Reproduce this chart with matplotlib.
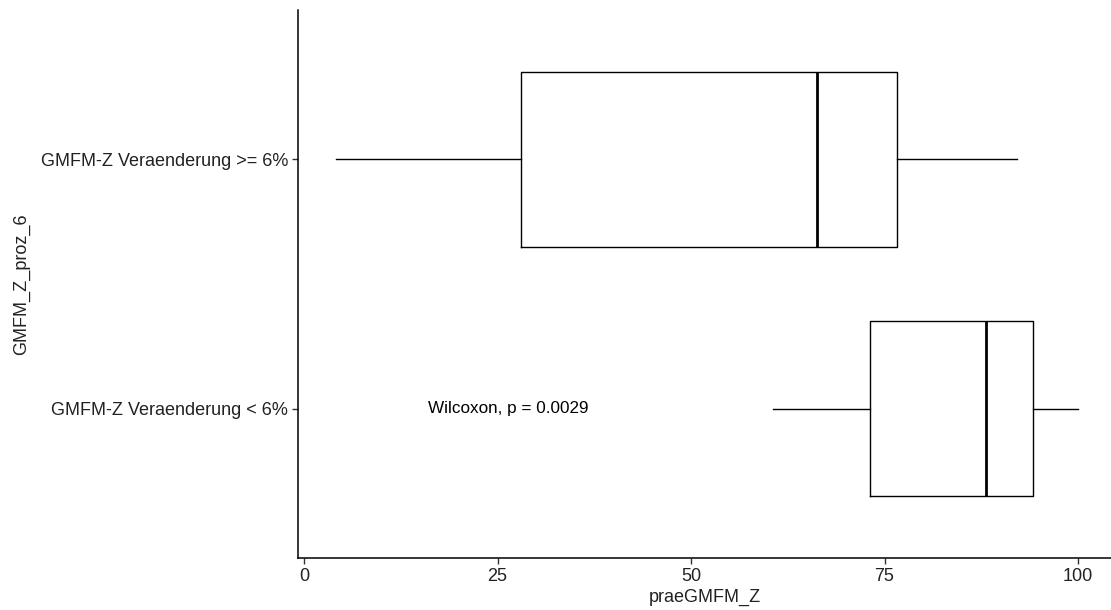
import matplotlib.pyplot as plt

# box statistics (praeGMFM_Z)
groups = ["GMFM-Z Veraenderung < 6%", "GMFM-Z Veraenderung >= 6%"]
whisker_low = [60.6, 4.1]
q1 = [73.1, 28.0]
median = [88.1, 66.3]
q3 = [94.2, 76.6]
whisker_high = [100.0, 92.1]
xticks = [0, 25, 50, 75, 100]
test_label = "Wilcoxon, p = 0.0029"

plt.rcParams['font.family'] = ['Liberation Sans', 'DejaVu Sans']

fig = plt.figure(figsize=(11.11, 6.10), dpi=100)
ax = fig.add_axes([298 / 1111, 1 - 558 / 610, (1111 - 298) / 1111, 548 / 610])

stats = []
for i in range(len(groups)):
    stats.append({"whislo": whisker_low[i], "q1": q1[i], "med": median[i],
                  "q3": q3[i], "whishi": whisker_high[i], "fliers": []})

ax.bxp(stats, positions=[1, 2], widths=0.7, vert=False, showcaps=False,
       boxprops=dict(color="black", linewidth=1.0),
       whiskerprops=dict(color="black", linewidth=1.0),
       medianprops=dict(color="black", linewidth=2.0))

ax.text(16.0, 1, test_label, ha="left", va="center", fontsize=12.3)

ax.set_xlim(-0.78, 104.26)
ax.set_ylim(0.4, 2.6)
ax.set_xticks(xticks)
ax.set_yticks([1, 2])
ax.set_yticklabels(groups)
ax.set_xlabel("praeGMFM_Z", fontsize=13, color="#222222", labelpad=3)
ax.set_ylabel("GMFM_Z_proz_6", fontsize=13, color="#222222", labelpad=8)
ax.tick_params(axis="both", labelsize=13, labelcolor="#222222", length=4,
               width=1, color="#333333", pad=3)

for side in ["top", "right"]:
    ax.spines[side].set_visible(False)
for side in ["left", "bottom"]:
    ax.spines[side].set_linewidth(1.1)
    ax.spines[side].set_color("black")

fig.savefig("out.png", dpi=100)
